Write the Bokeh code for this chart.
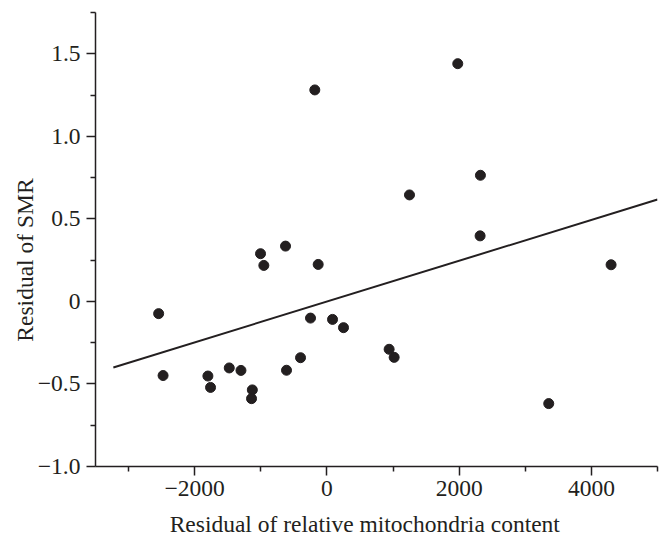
from bokeh.plotting import figure
from bokeh.models import Range1d, FixedTicker, CustomJSTickFormatter
from bokeh.embed import file_html
from bokeh.resources import INLINE

# Data
mito_residual = [-2545, -2478, -1800, -1760, -1477, -1300, -1128, -1140, -1004, -954,
                 -626, -611, -399, -248, -183, -132, 85, 251, 941, 1017,
                 1249, 1979, 2322, 2317, 3355, 4298]
smr_residual = [-0.074, -0.449, -0.452, -0.521, -0.403, -0.418, -0.536, -0.589, 0.289, 0.218,
                0.335, -0.417, -0.341, -0.101, 1.281, 0.224, -0.109, -0.159, -0.290, -0.339,
                0.645, 1.440, 0.764, 0.397, -0.619, 0.222]

fit_x = [-3230, 5000]
fit_y = [-0.400, 0.617]

x_major = [-2000, 0, 2000, 4000]
x_minor = [-3000, -1000, 1000, 3000, 5000]
y_major = [-1.0, -0.5, 0.0, 0.5, 1.0, 1.5]
y_minor = [-0.75, -0.25, 0.25, 0.75, 1.25, 1.75]

x_title = "Residual of relative mitochondria content"
y_title = "Residual of SMR"

INK = "#231f20"
FONT = "Liberation Serif"
FS = "23.5px"
NBSP = "\u00a0"

p = figure(width=664, height=540, output_backend="svg", toolbar_location=None,
           x_range=Range1d(-3500, 5000), y_range=Range1d(-1.0, 1.75),
           min_border_left=95, min_border_right=7, min_border_top=12, min_border_bottom=74)
p.outline_line_color = None
p.xgrid.visible = False
p.ygrid.visible = False
p.background_fill_color = "white"
p.border_fill_color = "white"

p.line(fit_x, fit_y, line_color=INK, line_width=2)
p.scatter(mito_residual, smr_residual, size=10, fill_color=INK, line_color=INK)

xa = p.xaxis[0]
ya = p.yaxis[0]
xa.ticker = FixedTicker(ticks=x_major, minor_ticks=x_minor)
ya.ticker = FixedTicker(ticks=y_major, minor_ticks=y_minor)
xa.formatter = CustomJSTickFormatter(code="return tick.toFixed(0).replace('-', '\u2212');")
ya.formatter = CustomJSTickFormatter(code="if (Math.abs(tick) < 1e-9) return '0'; return tick.toFixed(1).replace('-', '\u2212');")

for ax in (xa, ya):
    ax.axis_line_color = INK
    ax.axis_line_width = 1.5
    ax.major_tick_line_color = INK
    ax.minor_tick_line_color = INK
    ax.major_tick_line_width = 1.5
    ax.minor_tick_line_width = 1.5
    ax.major_tick_in = 0
    ax.major_tick_out = 9
    ax.minor_tick_in = 0
    ax.minor_tick_out = 5
    ax.major_label_text_font = FONT
    ax.major_label_text_font_size = FS
    ax.major_label_text_color = INK
    ax.major_label_standoff = 6
    ax.axis_label_text_font = FONT
    ax.axis_label_text_font_size = FS
    ax.axis_label_text_font_style = "normal"
    ax.axis_label_text_color = INK
xa.major_label_standoff = 5
xa.axis_label_standoff = 12
ya.axis_label_standoff = -3

# trailing no-break spaces shift the centred titles to where the reference has them
xa.axis_label = x_title + NBSP * 4
ya.axis_label = y_title + NBSP * 7

open("out.html", "w").write(file_html(p, INLINE))
